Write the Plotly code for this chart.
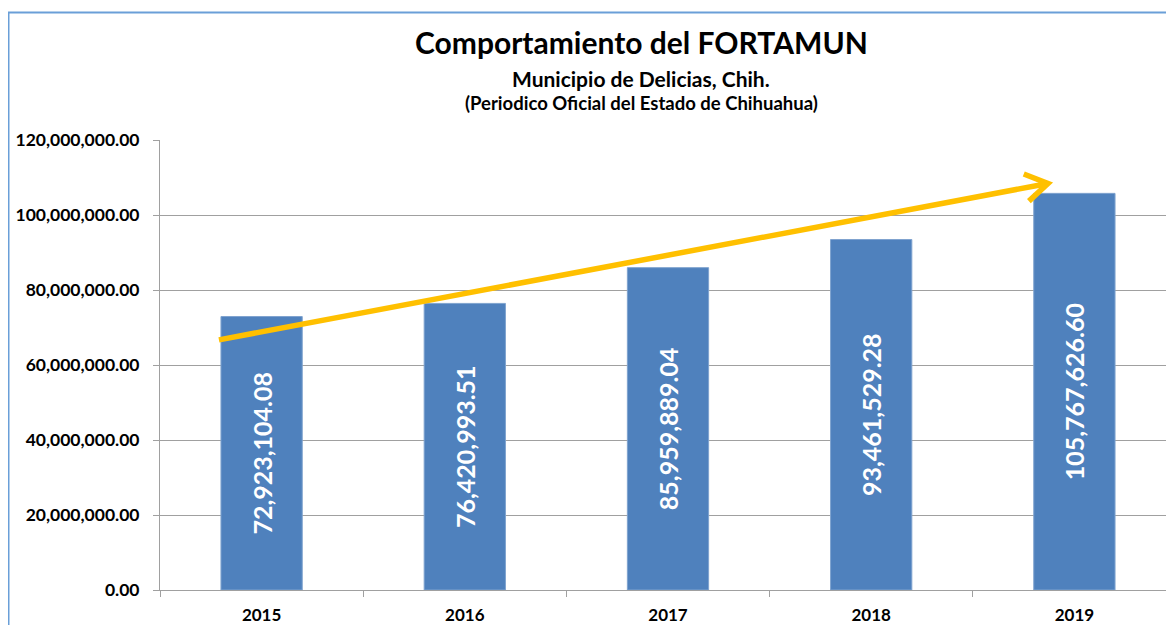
import math
import plotly.graph_objects as go

# ---- data ----
years = ["2015", "2016", "2017", "2018", "2019"]
amounts = [72923104.08, 76420993.51, 85959889.04, 93461529.28, 105767626.60]
labels = ["72,923,104.08", "76,420,993.51", "85,959,889.04", "93,461,529.28", "105,767,626.60"]
y_ticks = [0, 20e6, 40e6, 60e6, 80e6, 100e6, 120e6]

# trend arrow (data units: category index, value)
arrow_start = (-0.21, 66.7e6)
arrow_end = (3.87, 108.4e6)

OFF = 8  # page body margin
W, H = 1174 - OFF + 2, 625 - OFF
L, T = 160 - OFF, 140 - OFF
B = H - (590 - OFF)
R = 0
plot_w = W - L - R
plot_h = H - T - B
x_range = [-0.5, 4.5]
y_range = [0, 120e6]
px_per_cat = plot_w / (x_range[1] - x_range[0])
px_per_val = plot_h / (y_range[1] - y_range[0])

FONT = "Lato"
BLUE = "#4F81BD"
GOLD = "#FFC000"
GRID = "#A0A0A0"

fig = go.Figure()
fig.add_trace(go.Bar(
    x=years, y=amounts, text=labels,
    textposition="inside", insidetextanchor="middle", textangle=-90,
    insidetextfont=dict(family=FONT, size=25, color="white", weight="bold"),
    marker=dict(color=BLUE, line=dict(color="#7FA3CF", width=1)),
    width=0.40, hoverinfo="skip", cliponaxis=False,
))

# arrow shaft + chevron head computed in pixel space, then converted to data
sx, sy = arrow_start
ex, ey = arrow_end
dxp = (ex - sx) * px_per_cat
dyp = (ey - sy) * px_per_val
ang = math.atan2(dyp, dxp)
arm = 26
pts = []
for da in (math.radians(148), math.radians(-148)):
    a = ang + da
    pts.append((ex + arm * math.cos(a) / px_per_cat, ey + arm * math.sin(a) / px_per_val))
path = (f"M {sx},{sy} L {ex},{ey} "
        f"M {pts[0][0]},{pts[0][1]} L {ex},{ey} L {pts[1][0]},{pts[1][1]}")
fig.add_shape(type="path", path=path, xref="x", yref="y",
              line=dict(color=GOLD, width=5.5), layer="above")

# helpers: screenshot pixel -> paper coordinates
def px_to_paper_x(px):
    return (px - OFF - L) / plot_w
def px_to_paper_y(py):
    return (H - B - (py - OFF)) / plot_h

# outer chart border (partly cut off)
fig.add_shape(type="rect", xref="paper", yref="paper",
              x0=px_to_paper_x(8.5), y0=px_to_paper_y(700),
              x1=px_to_paper_x(1250), y1=px_to_paper_y(12.5),
              line=dict(color="#6A9FD8", width=2), layer="below")

title_x = px_to_paper_x(641)
fig.add_annotation(text="<b>Comportamiento del FORTAMUN</b>", xref="paper", yref="paper",
                   x=title_x, y=px_to_paper_y(42), showarrow=False,
                   font=dict(family=FONT, size=30, color="black"), xanchor="center", yanchor="middle")
fig.add_annotation(text="<b>Municipio de Delicias, Chih.</b>", xref="paper", yref="paper",
                   x=title_x, y=px_to_paper_y(78), showarrow=False,
                   font=dict(family=FONT, size=21, color="black"), xanchor="center", yanchor="middle")
fig.add_annotation(text="<b>(Periodico Oficial del Estado de Chihuahua)</b>", xref="paper", yref="paper",
                   x=title_x, y=px_to_paper_y(103), showarrow=False,
                   font=dict(family=FONT, size=18.5, color="black"), xanchor="center", yanchor="middle")

fig.update_layout(
    width=W, height=H,
    margin=dict(l=L, r=R, t=T, b=B, pad=0),
    paper_bgcolor="white", plot_bgcolor="white",
    showlegend=False,
    font=dict(family=FONT, color="black"),
)
fig.update_xaxes(
    type="category", range=x_range, tickson="boundaries",
    ticks="outside", ticklen=6, tickcolor=GRID,
    showline=True, linecolor=GRID, linewidth=1, showgrid=False,
    tickfont=dict(family=FONT, size=17, color="black", weight="bold"),
    ticklabelstandoff=10,
)
fig.update_yaxes(
    range=y_range, tickvals=y_ticks, tickformat=",.2f",
    ticks="outside", ticklen=6, tickcolor=GRID,
    showline=True, linecolor=GRID, linewidth=1,
    showgrid=True, gridcolor=GRID, gridwidth=1, zeroline=False,
    tickfont=dict(family=FONT, size=17.5, color="black", weight="bold"),
    ticklabelstandoff=10,
)

fig.write_html("out.html")
